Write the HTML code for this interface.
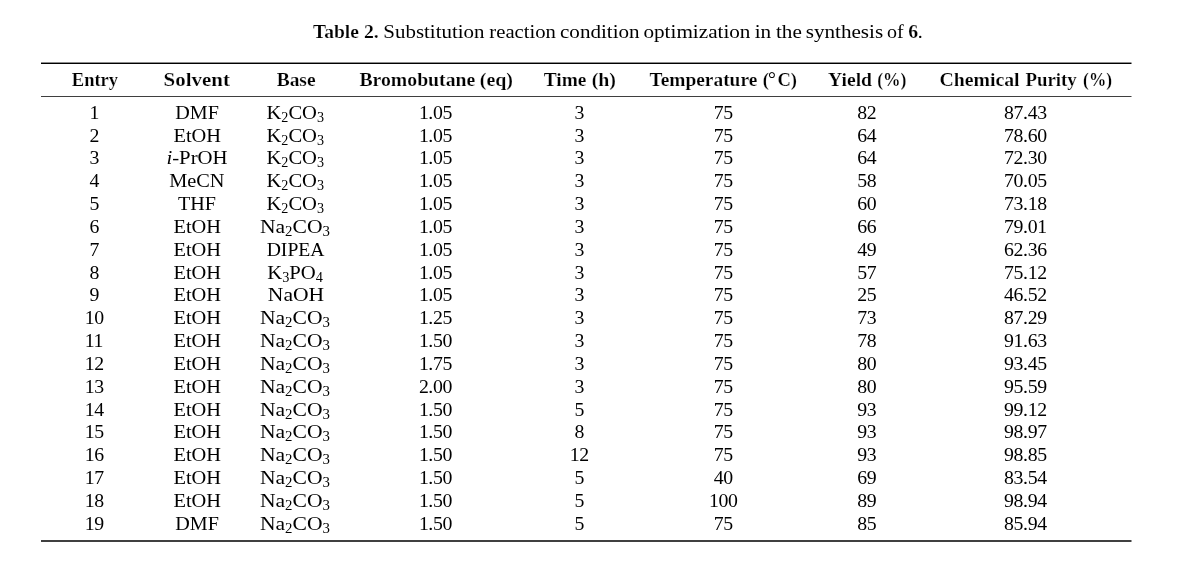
<!DOCTYPE html>
<html lang="en">
<head>
<meta charset="utf-8">
<title>Table 2. Substitution reaction condition optimization in the synthesis of 6.</title>
<style>
html,body{margin:0;padding:0;background:#fff}
body{width:1189px;height:562px;overflow:hidden;position:relative;color:#000;
 font-family:'Liberation Serif',serif;font-size:19.8px;line-height:20px;-webkit-font-smoothing:antialiased}
.cap{position:absolute;left:0;width:1189px;height:20px;white-space:nowrap}
.cap>span,.cap>b{position:absolute;top:0;transform-origin:0 0}
table{display:block;position:absolute;left:0;top:0px;width:1189px;height:562px;border:0;border-collapse:collapse;margin:0;padding:0}
thead,tbody{display:block}
tr{display:block;position:absolute;left:0;width:1189px;height:20px;white-space:nowrap}
th,td{display:inline;padding:0;margin:0;font-weight:normal}
th>span,.cap>b{font-weight:bold;-webkit-text-stroke:0.2px #fff}
th>span,td>span{position:absolute;top:0;transform-origin:0 0}
sub{font-size:13.6px;vertical-align:baseline;position:relative;top:3px;line-height:0}
th .deg{font-weight:normal;font-size:21px;line-height:0;margin:0 1.7px 0 -0.9px;position:relative;top:0px;-webkit-text-stroke:0}
.rule{position:absolute;left:41px;width:1090px;height:1px;background:#000}
.rule:after{content:"";position:absolute;left:100%;top:0;width:1px;height:100%;background:inherit;opacity:.5}
</style>
</head>
<body>
<div class="cap" style="top:21px"><b style="left:312px;transform:translateX(0.91px) scaleX(0.9883)">Table</b> <b style="left:363px;transform:translateX(0.89px) scaleX(0.9994)">2.</b> <span style="left:383px;transform:translateX(0.34px) scaleX(1.0577)">Substitution</span> <span style="left:489px;transform:translateX(0.37px) scaleX(1.0450)">reaction</span> <span style="left:559px;transform:translateX(0.99px) scaleX(1.0655)">condition</span> <span style="left:643px;transform:translateX(0.45px) scaleX(1.0702)">optimization</span> <span style="left:754px;transform:translateX(0.68px) scaleX(1.0701)">in</span> <span style="left:775px;transform:translateX(0.98px) scaleX(1.0713)">the</span> <span style="left:805px;transform:translateX(0.68px) scaleX(1.0681)">synthesis</span> <span style="left:886px;transform:translateX(0.98px) scaleX(1.0119)">of</span> <b style="left:908.27px">6</b> <span style="left:917.76px">.</span></div>
<div class="rule" style="top:62px;background:#8c8c8c"></div><div class="rule" style="top:63px"></div><div class="rule" style="top:96px;background:#3f3f3f"></div><div class="rule" style="top:540px;background:#404040"></div><div class="rule" style="top:541px;background:#404040"></div>
<table>
<thead><tr style="top:69px"><th><span style="left:71px;transform:translateX(0.79px) scaleX(0.9365)">Entry</span></th><th><span style="left:163px;transform:translateX(0.57px) scaleX(1.0585)">Solvent</span></th><th><span style="left:276px;transform:translateX(0.66px) scaleX(0.9837)">Base</span></th><th><span style="left:359px;transform:translateX(0.42px) scaleX(0.9971)">Bromobutane</span> <span style="left:479px;transform:translateX(0.79px) scaleX(1.0069)">(eq)</span></th><th><span style="left:543px;transform:translateX(0.75px) scaleX(0.9796)">Time</span> <span style="left:591px;transform:translateX(0.68px) scaleX(1.0048)">(h)</span></th><th><span style="left:649px;transform:translateX(0.55px) scaleX(0.9802)">Temperature</span> <span style="left:762px;transform:translateX(0.65px) scaleX(0.9351)">(<span class="deg">°</span>C)</span></th><th><span style="left:827px;transform:translateX(0.97px) scaleX(0.9945)">Yield</span> <span style="left:877px;transform:translateX(0.23px) scaleX(0.8868)">(%)</span></th><th><span style="left:939.39px">Chemical</span> <span style="left:1025px;transform:translateX(0.49px) scaleX(0.9515)">Purity</span> <span style="left:1083px;transform:translateX(0.12px) scaleX(0.8768)">(%)</span></th></tr></thead>
<tbody>
<tr style="top:102px"><td><span style="left:89.60px;letter-spacing:-0.40px">1</span></td><td><span style="left:175px;transform:translateX(0.25px) scaleX(1.0177)">DMF</span></td><td><span style="left:266px;transform:translateX(0.46px) scaleX(1.0397)">K<sub>2</sub>CO<sub>3</sub></span></td><td><span style="left:418.88px;letter-spacing:-0.40px">1.05</span></td><td><span style="left:574.40px;letter-spacing:-0.40px">3</span></td><td><span style="left:713.70px;letter-spacing:-0.40px">75</span></td><td><span style="left:857.30px;letter-spacing:-0.40px">82</span></td><td><span style="left:1004.12px;letter-spacing:-0.40px">87.43</span></td></tr>
<tr style="top:125px"><td><span style="left:89.60px;letter-spacing:-0.40px">2</span></td><td><span style="left:173px;transform:translateX(0.45px) scaleX(1.0324)">EtOH</span></td><td><span style="left:266px;transform:translateX(0.46px) scaleX(1.0397)">K<sub>2</sub>CO<sub>3</sub></span></td><td><span style="left:418.88px;letter-spacing:-0.40px">1.05</span></td><td><span style="left:574.40px;letter-spacing:-0.40px">3</span></td><td><span style="left:713.70px;letter-spacing:-0.40px">75</span></td><td><span style="left:857.30px;letter-spacing:-0.40px">64</span></td><td><span style="left:1004.12px;letter-spacing:-0.40px">78.60</span></td></tr>
<tr style="top:147px"><td><span style="left:89.60px;letter-spacing:-0.40px">3</span></td><td><span style="left:166px;transform:translateX(0.41px) scaleX(1.0511)"><i>i</i>-PrOH</span></td><td><span style="left:266px;transform:translateX(0.46px) scaleX(1.0397)">K<sub>2</sub>CO<sub>3</sub></span></td><td><span style="left:418.88px;letter-spacing:-0.40px">1.05</span></td><td><span style="left:574.40px;letter-spacing:-0.40px">3</span></td><td><span style="left:713.70px;letter-spacing:-0.40px">75</span></td><td><span style="left:857.30px;letter-spacing:-0.40px">64</span></td><td><span style="left:1004.12px;letter-spacing:-0.40px">72.30</span></td></tr>
<tr style="top:170px"><td><span style="left:89.60px;letter-spacing:-0.40px">4</span></td><td><span style="left:169px;transform:translateX(0.20px) scaleX(1.0276)">MeCN</span></td><td><span style="left:266px;transform:translateX(0.46px) scaleX(1.0397)">K<sub>2</sub>CO<sub>3</sub></span></td><td><span style="left:418.88px;letter-spacing:-0.40px">1.05</span></td><td><span style="left:574.40px;letter-spacing:-0.40px">3</span></td><td><span style="left:713.70px;letter-spacing:-0.40px">75</span></td><td><span style="left:857.30px;letter-spacing:-0.40px">58</span></td><td><span style="left:1004.12px;letter-spacing:-0.40px">70.05</span></td></tr>
<tr style="top:193px"><td><span style="left:89.60px;letter-spacing:-0.40px">5</span></td><td><span style="left:178px;transform:translateX(0.01px) scaleX(1.0188)">THF</span></td><td><span style="left:266px;transform:translateX(0.46px) scaleX(1.0397)">K<sub>2</sub>CO<sub>3</sub></span></td><td><span style="left:418.88px;letter-spacing:-0.40px">1.05</span></td><td><span style="left:574.40px;letter-spacing:-0.40px">3</span></td><td><span style="left:713.70px;letter-spacing:-0.40px">75</span></td><td><span style="left:857.30px;letter-spacing:-0.40px">60</span></td><td><span style="left:1004.12px;letter-spacing:-0.40px">73.18</span></td></tr>
<tr style="top:216px"><td><span style="left:89.60px;letter-spacing:-0.40px">6</span></td><td><span style="left:173px;transform:translateX(0.45px) scaleX(1.0324)">EtOH</span></td><td><span style="left:259px;transform:translateX(0.92px) scaleX(1.0906)">Na<sub>2</sub>CO<sub>3</sub></span></td><td><span style="left:418.88px;letter-spacing:-0.40px">1.05</span></td><td><span style="left:574.40px;letter-spacing:-0.40px">3</span></td><td><span style="left:713.70px;letter-spacing:-0.40px">75</span></td><td><span style="left:857.30px;letter-spacing:-0.40px">66</span></td><td><span style="left:1004.12px;letter-spacing:-0.40px">79.01</span></td></tr>
<tr style="top:239px"><td><span style="left:89.60px;letter-spacing:-0.40px">7</span></td><td><span style="left:173px;transform:translateX(0.45px) scaleX(1.0324)">EtOH</span></td><td><span style="left:266px;transform:translateX(0.63px) scaleX(0.9946)">DIPEA</span></td><td><span style="left:418.88px;letter-spacing:-0.40px">1.05</span></td><td><span style="left:574.40px;letter-spacing:-0.40px">3</span></td><td><span style="left:713.70px;letter-spacing:-0.40px">75</span></td><td><span style="left:857.30px;letter-spacing:-0.40px">49</span></td><td><span style="left:1004.12px;letter-spacing:-0.40px">62.36</span></td></tr>
<tr style="top:262px"><td><span style="left:89.60px;letter-spacing:-0.40px">8</span></td><td><span style="left:173px;transform:translateX(0.45px) scaleX(1.0324)">EtOH</span></td><td><span style="left:267px;transform:translateX(0.20px) scaleX(1.0475)">K<sub>3</sub>PO<sub>4</sub></span></td><td><span style="left:418.88px;letter-spacing:-0.40px">1.05</span></td><td><span style="left:574.40px;letter-spacing:-0.40px">3</span></td><td><span style="left:713.70px;letter-spacing:-0.40px">75</span></td><td><span style="left:857.30px;letter-spacing:-0.40px">57</span></td><td><span style="left:1004.12px;letter-spacing:-0.40px">75.12</span></td></tr>
<tr style="top:284px"><td><span style="left:89.60px;letter-spacing:-0.40px">9</span></td><td><span style="left:173px;transform:translateX(0.45px) scaleX(1.0324)">EtOH</span></td><td><span style="left:267px;transform:translateX(0.84px) scaleX(1.0915)">NaOH</span></td><td><span style="left:418.88px;letter-spacing:-0.40px">1.05</span></td><td><span style="left:574.40px;letter-spacing:-0.40px">3</span></td><td><span style="left:713.70px;letter-spacing:-0.40px">75</span></td><td><span style="left:857.30px;letter-spacing:-0.40px">25</span></td><td><span style="left:1004.12px;letter-spacing:-0.40px">46.52</span></td></tr>
<tr style="top:307px"><td><span style="left:84.85px;letter-spacing:-0.40px">10</span></td><td><span style="left:173px;transform:translateX(0.45px) scaleX(1.0324)">EtOH</span></td><td><span style="left:259px;transform:translateX(0.92px) scaleX(1.0906)">Na<sub>2</sub>CO<sub>3</sub></span></td><td><span style="left:418.88px;letter-spacing:-0.40px">1.25</span></td><td><span style="left:574.40px;letter-spacing:-0.40px">3</span></td><td><span style="left:713.70px;letter-spacing:-0.40px">75</span></td><td><span style="left:857.30px;letter-spacing:-0.40px">73</span></td><td><span style="left:1004.12px;letter-spacing:-0.40px">87.29</span></td></tr>
<tr style="top:330px"><td><span style="left:84.85px;letter-spacing:-0.40px">11</span></td><td><span style="left:173px;transform:translateX(0.45px) scaleX(1.0324)">EtOH</span></td><td><span style="left:259px;transform:translateX(0.92px) scaleX(1.0906)">Na<sub>2</sub>CO<sub>3</sub></span></td><td><span style="left:418.88px;letter-spacing:-0.40px">1.50</span></td><td><span style="left:574.40px;letter-spacing:-0.40px">3</span></td><td><span style="left:713.70px;letter-spacing:-0.40px">75</span></td><td><span style="left:857.30px;letter-spacing:-0.40px">78</span></td><td><span style="left:1004.12px;letter-spacing:-0.40px">91.63</span></td></tr>
<tr style="top:353px"><td><span style="left:84.85px;letter-spacing:-0.40px">12</span></td><td><span style="left:173px;transform:translateX(0.45px) scaleX(1.0324)">EtOH</span></td><td><span style="left:259px;transform:translateX(0.92px) scaleX(1.0906)">Na<sub>2</sub>CO<sub>3</sub></span></td><td><span style="left:418.88px;letter-spacing:-0.40px">1.75</span></td><td><span style="left:574.40px;letter-spacing:-0.40px">3</span></td><td><span style="left:713.70px;letter-spacing:-0.40px">75</span></td><td><span style="left:857.30px;letter-spacing:-0.40px">80</span></td><td><span style="left:1004.12px;letter-spacing:-0.40px">93.45</span></td></tr>
<tr style="top:376px"><td><span style="left:84.85px;letter-spacing:-0.40px">13</span></td><td><span style="left:173px;transform:translateX(0.45px) scaleX(1.0324)">EtOH</span></td><td><span style="left:259px;transform:translateX(0.92px) scaleX(1.0906)">Na<sub>2</sub>CO<sub>3</sub></span></td><td><span style="left:418.88px;letter-spacing:-0.40px">2.00</span></td><td><span style="left:574.40px;letter-spacing:-0.40px">3</span></td><td><span style="left:713.70px;letter-spacing:-0.40px">75</span></td><td><span style="left:857.30px;letter-spacing:-0.40px">80</span></td><td><span style="left:1004.12px;letter-spacing:-0.40px">95.59</span></td></tr>
<tr style="top:399px"><td><span style="left:84.85px;letter-spacing:-0.40px">14</span></td><td><span style="left:173px;transform:translateX(0.45px) scaleX(1.0324)">EtOH</span></td><td><span style="left:259px;transform:translateX(0.92px) scaleX(1.0906)">Na<sub>2</sub>CO<sub>3</sub></span></td><td><span style="left:418.88px;letter-spacing:-0.40px">1.50</span></td><td><span style="left:574.40px;letter-spacing:-0.40px">5</span></td><td><span style="left:713.70px;letter-spacing:-0.40px">75</span></td><td><span style="left:857.30px;letter-spacing:-0.40px">93</span></td><td><span style="left:1004.12px;letter-spacing:-0.40px">99.12</span></td></tr>
<tr style="top:421px"><td><span style="left:84.85px;letter-spacing:-0.40px">15</span></td><td><span style="left:173px;transform:translateX(0.45px) scaleX(1.0324)">EtOH</span></td><td><span style="left:259px;transform:translateX(0.92px) scaleX(1.0906)">Na<sub>2</sub>CO<sub>3</sub></span></td><td><span style="left:418.88px;letter-spacing:-0.40px">1.50</span></td><td><span style="left:574.40px;letter-spacing:-0.40px">8</span></td><td><span style="left:713.70px;letter-spacing:-0.40px">75</span></td><td><span style="left:857.30px;letter-spacing:-0.40px">93</span></td><td><span style="left:1004.12px;letter-spacing:-0.40px">98.97</span></td></tr>
<tr style="top:444px"><td><span style="left:84.85px;letter-spacing:-0.40px">16</span></td><td><span style="left:173px;transform:translateX(0.45px) scaleX(1.0324)">EtOH</span></td><td><span style="left:259px;transform:translateX(0.92px) scaleX(1.0906)">Na<sub>2</sub>CO<sub>3</sub></span></td><td><span style="left:418.88px;letter-spacing:-0.40px">1.50</span></td><td><span style="left:569.65px;letter-spacing:-0.40px">12</span></td><td><span style="left:713.70px;letter-spacing:-0.40px">75</span></td><td><span style="left:857.30px;letter-spacing:-0.40px">93</span></td><td><span style="left:1004.12px;letter-spacing:-0.40px">98.85</span></td></tr>
<tr style="top:467px"><td><span style="left:84.85px;letter-spacing:-0.40px">17</span></td><td><span style="left:173px;transform:translateX(0.45px) scaleX(1.0324)">EtOH</span></td><td><span style="left:259px;transform:translateX(0.92px) scaleX(1.0906)">Na<sub>2</sub>CO<sub>3</sub></span></td><td><span style="left:418.88px;letter-spacing:-0.40px">1.50</span></td><td><span style="left:574.40px;letter-spacing:-0.40px">5</span></td><td><span style="left:713.70px;letter-spacing:-0.40px">40</span></td><td><span style="left:857.30px;letter-spacing:-0.40px">69</span></td><td><span style="left:1004.12px;letter-spacing:-0.40px">83.54</span></td></tr>
<tr style="top:490px"><td><span style="left:84.85px;letter-spacing:-0.40px">18</span></td><td><span style="left:173px;transform:translateX(0.45px) scaleX(1.0324)">EtOH</span></td><td><span style="left:259px;transform:translateX(0.92px) scaleX(1.0906)">Na<sub>2</sub>CO<sub>3</sub></span></td><td><span style="left:418.88px;letter-spacing:-0.40px">1.50</span></td><td><span style="left:574.40px;letter-spacing:-0.40px">5</span></td><td><span style="left:708.95px;letter-spacing:-0.40px">100</span></td><td><span style="left:857.30px;letter-spacing:-0.40px">89</span></td><td><span style="left:1004.12px;letter-spacing:-0.40px">98.94</span></td></tr>
<tr style="top:513px"><td><span style="left:84.85px;letter-spacing:-0.40px">19</span></td><td><span style="left:175px;transform:translateX(0.25px) scaleX(1.0177)">DMF</span></td><td><span style="left:259px;transform:translateX(0.92px) scaleX(1.0906)">Na<sub>2</sub>CO<sub>3</sub></span></td><td><span style="left:418.88px;letter-spacing:-0.40px">1.50</span></td><td><span style="left:574.40px;letter-spacing:-0.40px">5</span></td><td><span style="left:713.70px;letter-spacing:-0.40px">75</span></td><td><span style="left:857.30px;letter-spacing:-0.40px">85</span></td><td><span style="left:1004.12px;letter-spacing:-0.40px">85.94</span></td></tr>
</tbody>
</table>
</body>
</html>
